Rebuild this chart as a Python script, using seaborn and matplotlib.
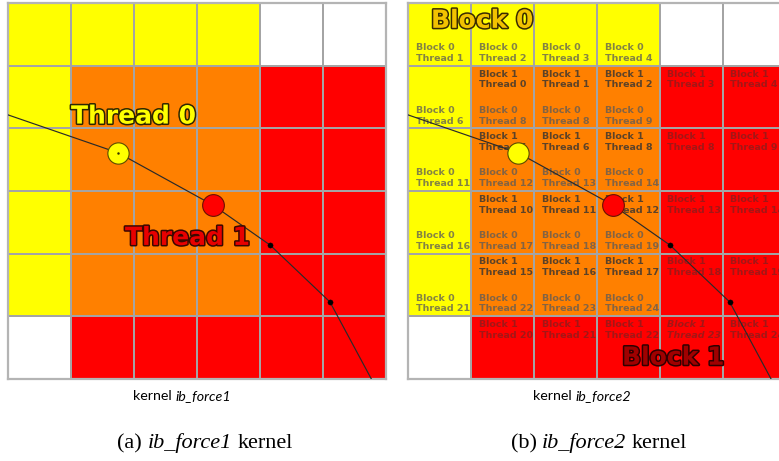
import numpy as np
import pandas as pd
import matplotlib
matplotlib.use("Agg")
import matplotlib.pyplot as plt
import matplotlib.patheffects as pe
from matplotlib.colors import ListedColormap
import seaborn as sns

W, H = 779, 461

# Cell ownership: 0 = outside, 1 = block 0, 2 = shared (both blocks), 3 = block 1
cell_codes = [
    [1, 1, 1, 1, 0, 0],
    [1, 2, 2, 2, 3, 3],
    [1, 2, 2, 2, 3, 3],
    [1, 2, 2, 2, 3, 3],
    [1, 2, 2, 2, 3, 3],
    [0, 3, 3, 3, 3, 3],
]
cell_colors = ["#ffffff", "#ffff00", "#ff8000", "#ff0000"]

# Thread ids written in each cell of the second kernel (None = no label)
block0_threads = [
    [1, 2, 3, 4, None, None],
    [6, 8, 8, 9, None, None],
    [11, 12, 13, 14, None, None],
    [16, 17, 18, 19, None, None],
    [21, 22, 23, 24, None, None],
    [None, None, None, None, None, None],
]
block1_threads = [
    [None, None, None, None, None, None],
    [None, 0, 1, 2, 3, 4],
    [None, 5, 6, 8, 8, 9],
    [None, 10, 11, 12, 13, 14],
    [None, 15, 16, 17, 18, 19],
    [None, 20, 21, 22, 23, 24],
]
italic_cells = [(5, 4)]

# Immersed-boundary (Lagrangian) points in grid units: column, row
lag_x = [0.0, 1.745, 3.25, 4.16, 5.11, 5.765]
lag_y = [1.785, 2.39, 3.224, 3.865, 4.774, 6.0]
lag_kind = ["end", "thread0", "thread1", "point", "point", "end"]

panel_titles = [("Thread 0", "Thread 1"), ("Block 0", "Block 1")]
kernel_names = ["ib_force1", "ib_force2"]
sub_letters = ["(a)", "(b)"]

marker_styles = {
    "thread0": dict(s=235, color="#ffff00", edgecolor="#5a4a00", linewidth=0.8),
    "thread1": dict(s=245, color="#ff0000", edgecolor="#6a1000", linewidth=0.8),
    "point": dict(s=14, color="#000000", edgecolor="#000000", linewidth=0.3),
}

fig = plt.figure(figsize=(W / 100, H / 100), dpi=100)
fig.patch.set_facecolor("white")


def frac(x0, y0, x1, y1):
    return [x0 / W, 1 - y1 / H, (x1 - x0) / W, (y1 - y0) / H]


codes_df = pd.DataFrame(cell_codes)
cmap = ListedColormap(cell_colors)
panel_boxes = [frac(8.3, 3.3, 386.0, 378.7), frac(408.3, 3.3, 785.7, 378.7)]
axes = []
for box in panel_boxes:
    ax = fig.add_axes(box)
    sns.heatmap(codes_df, cmap=cmap, vmin=-0.5, vmax=3.5, cbar=False,
                linewidths=1.1, linecolor="#a4a4a4", xticklabels=False,
                yticklabels=False, ax=ax)
    for sp in ax.spines.values():
        sp.set_visible(True)
        sp.set_color("#b4b4b4")
        sp.set_linewidth(1.6)
    axes.append(ax)

# Per-cell thread labels of the second kernel
ax = axes[1]
lab_kw = dict(family="DejaVu Sans", weight="bold", size=6.8, linespacing=1.25,
              ha="left", zorder=3)
for r in range(6):
    for c in range(6):
        style = "italic" if (r, c) in italic_cells else "normal"
        b1 = block1_threads[r][c]
        if b1 is not None:
            on_red = cell_codes[r][c] == 3
            ax.text(c + 0.12, r + 0.06, f"Block 1\nThread {b1}", va="top",
                    color="#333333", alpha=0.45 if on_red else 0.8,
                    style=style, **lab_kw)
        b0 = block0_threads[r][c]
        if b0 is not None:
            ax.text(c + 0.12, r + 0.955, f"Block 0\nThread {b0}", va="bottom",
                    color="#5a5a5a", alpha=0.75, style=style, **lab_kw)

# Boundary curve and its points on both panels
pts = pd.DataFrame(dict(x=lag_x, y=lag_y, kind=lag_kind))
for ax in axes:
    sns.lineplot(data=pts, x="x", y="y", sort=False, color="#2a2a2a",
                 linewidth=0.85, ax=ax, zorder=4)
    for kind, st in marker_styles.items():
        sub = pts[pts.kind == kind]
        sns.scatterplot(data=sub, x="x", y="y", ax=ax, zorder=6, legend=False, **st)
    ax.set_xlim(0, 6)
    ax.set_ylim(6, 0)
    ax.set_xlabel("")
    ax.set_ylabel("")

axes[0].scatter([1.745], [2.39], s=0.6, color="#333300", zorder=7)

# Big overlay labels
big_kw = dict(family="DejaVu Sans", weight="bold", size=18, ha="left",
              va="center", zorder=8)
axes[0].text(0.996, 1.81, panel_titles[0][0], color="#ffff00",
             path_effects=[pe.Stroke(linewidth=2.2, foreground="#2e2600"), pe.Normal()],
             **big_kw)
axes[0].text(1.854, 3.75, panel_titles[0][1], color="#e80000",
             path_effects=[pe.Stroke(linewidth=2.2, foreground="#3a0800"), pe.Normal()],
             **big_kw)
axes[1].text(0.361, 0.28, panel_titles[1][0], color="#f2c200",
             path_effects=[pe.Stroke(linewidth=2.2, foreground="#3a2c00"), pe.Normal()],
             **big_kw)
axes[1].text(3.398, 5.665, panel_titles[1][1], color="#a00000",
             path_effects=[pe.Stroke(linewidth=2.2, foreground="#300000"), pe.Normal()],
             **big_kw)

# Captions made of words in mixed styles
renderer = fig.canvas.get_renderer()


def caption(words, x_center, y_base, family, size):
    probe = fig.text(0, 0, "x x", family=family, size=size)
    probe2 = fig.text(0, 0, "xx", family=family, size=size)
    gap = probe.get_window_extent(renderer).width - probe2.get_window_extent(renderer).width
    probe.remove()
    probe2.remove()
    items = []
    for word, style in words:
        t = fig.text(0, 0, word, family=family, size=size, style=style,
                     ha="left", va="baseline")
        items.append((t, t.get_window_extent(renderer).width))
    total = sum(w for _, w in items) + gap * (len(items) - 1)
    x = x_center - total / 2
    for t, w in items:
        t.set_position((x / W, 1 - y_base / H))
        x += w + gap


for i, xc in enumerate([182.5, 582.5]):
    caption([("kernel", "normal"), (kernel_names[i], "italic")], xc, 400,
            "Lato", 10.3)
for i, xc in enumerate([205, 599]):
    caption([(sub_letters[i], "normal"), (kernel_names[i], "italic"),
             ("kernel", "normal")], xc, 448, "Liberation Serif", 16)

fig.savefig("out.png", dpi=100)
